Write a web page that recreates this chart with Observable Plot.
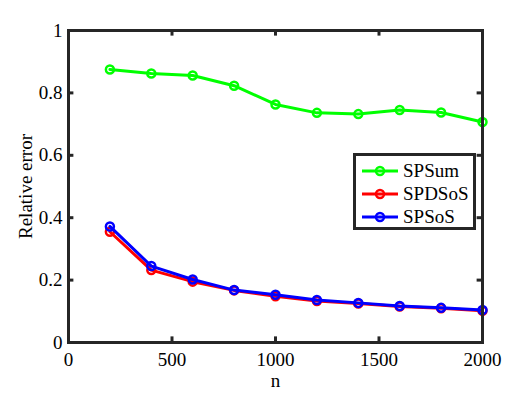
<!DOCTYPE html>
<html><head><meta charset="utf-8">
<script src="https://cdn.jsdelivr.net/npm/d3@7"></script>
<script src="https://cdn.jsdelivr.net/npm/@observablehq/plot@0.6"></script>
<style>
body{margin:0;background:#fff;}
#wrap{position:relative;width:532px;height:399px;font-family:'Liberation Serif',serif;}
#wrap svg text{font-family:'Liberation Serif',serif !important;}
#legend{position:absolute;left:353px;top:153px;width:117px;height:71px;border:3px solid #262626;background:#fff;}
.row{position:absolute;left:4px;height:22px;display:flex;align-items:center;font-size:19px;color:#000;font-family:'Liberation Serif',serif;}
</style></head>
<body><div id="wrap"></div>
<script>
const n = [200,400,600,800,1000,1200,1400,1600,1800,2000];
const spsum  = [0.875,0.862,0.856,0.823,0.763,0.736,0.732,0.745,0.737,0.707];
const spdsos = [0.355,0.232,0.195,0.167,0.148,0.133,0.125,0.115,0.110,0.102];
const spsos  = [0.372,0.245,0.202,0.168,0.153,0.136,0.127,0.117,0.111,0.104];
const seriesNames = ["SPSum","SPDSoS","SPSoS"];
const seriesColors = ["#00ff00","#ff0000","#0000ff"];
const xTicks = [0,500,1000,1500,2000];
const yTicks = [0,0.2,0.4,0.6,0.8,1];

const data = [];
[spsum, spdsos, spsos].forEach((arr,k)=>arr.forEach((v,i)=>data.push({n:n[i], v, s:seriesNames[k]})));

const axisColor = "#262626";
const marks = [];
seriesNames.forEach((s,k)=>{
  const d = data.filter(e=>e.s===s);
  marks.push(Plot.line(d,{x:"n",y:"v",stroke:seriesColors[k],strokeWidth:3}));
  marks.push(Plot.dot(d,{x:"n",y:"v",stroke:seriesColors[k],strokeWidth:2.5,r:4,fill:"none"}));
});
marks.push(
  Plot.ruleX(xTicks,{x:d=>d,y1:0,y2:0.018,stroke:axisColor,strokeWidth:3}),
  Plot.ruleX(xTicks,{x:d=>d,y1:1,y2:0.982,stroke:axisColor,strokeWidth:3}),
  Plot.ruleY(yTicks,{y:d=>d,x1:0,x2:26,stroke:axisColor,strokeWidth:3}),
  Plot.ruleY(yTicks,{y:d=>d,x1:2000,x2:1974,stroke:axisColor,strokeWidth:3}),
  Plot.frame({stroke:axisColor,strokeWidth:3}),
  Plot.axisX(xTicks,{tickSize:0,tickPadding:10,fontSize:19,label:"n",labelArrow:"none",labelAnchor:"center",labelOffset:44,color:"#000",tickFormat:d=>String(d)}),
  Plot.axisY(yTicks,{tickSize:0,tickPadding:6,fontSize:19,label:"Relative error",labelArrow:"none",labelAnchor:"center",labelOffset:50,color:"#000",tickFormat:d=>String(d)})
);

const chart = Plot.plot({
  width:532, height:399,
  marginLeft:68, marginRight:50, marginTop:30, marginBottom:57,
  style:{fontFamily:"Liberation Serif, serif",fontSize:"19px",color:"#000",background:"#fff",overflow:"visible"},
  x:{domain:[0,2000]},
  y:{domain:[0,1]},
  marks
});
const wrap = document.getElementById("wrap");
wrap.appendChild(chart);

const leg = document.createElement("div");
leg.id = "legend";
seriesNames.forEach((s,k)=>{
  const row = document.createElement("div");
  row.className = "row";
  row.style.top = (4 + k*23) + "px";
  row.innerHTML = `<svg width="40" height="14" style="margin-right:3px"><line x1="2" x2="38" y1="7" y2="7" stroke="${seriesColors[k]}" stroke-width="3"/><circle cx="20" cy="7" r="4" fill="none" stroke="${seriesColors[k]}" stroke-width="2.5"/></svg><span>${s}</span>`;
  leg.appendChild(row);
});
wrap.appendChild(leg);
</script></body></html>
